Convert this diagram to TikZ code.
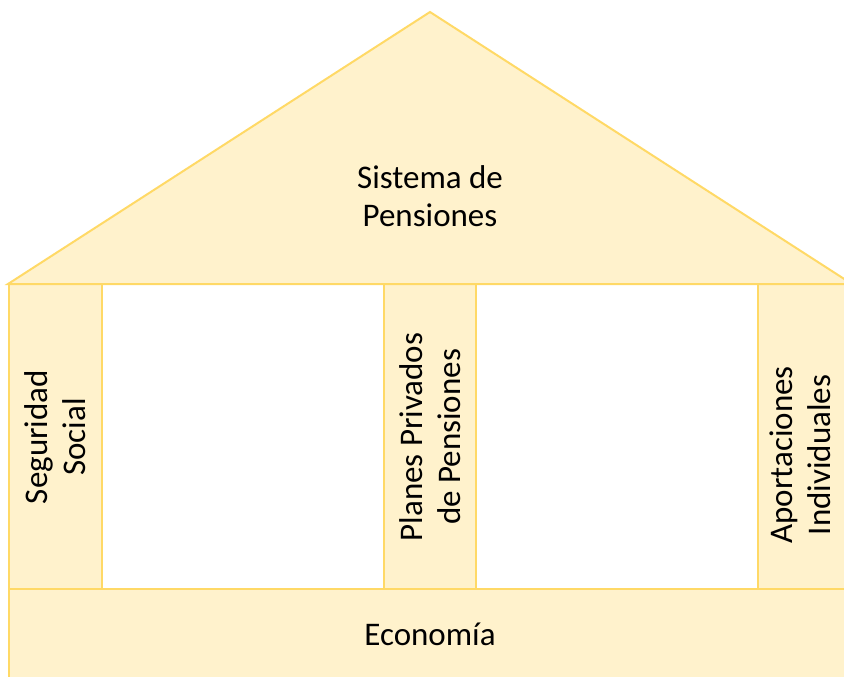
\documentclass[tikz,border=0pt]{standalone}
\usepackage{fontspec}
\setmainfont{Carlito}
\definecolor{pillarfill}{HTML}{FFF2CC}
\definecolor{pillarline}{HTML}{FFD966}
\tikzset{
  part/.style={fill=pillarfill, draw=pillarline, line width=2pt},
  label/.style={font=\fontsize{33}{38}\selectfont, align=center, text=black}
}

\begin{document}
\begin{tikzpicture}[x=1pt,y=-1pt]
    \useasboundingbox (0,0) rectangle (844,677);
    \begin{scope}
    \clip (0,0) rectangle (844,677);
    % Draw the pillars
    \draw[part] (9,284) rectangle (102,589);
    \draw[part] (384,284) rectangle (476,589);
    \draw[part] (758,284) rectangle (850,589);
    % Draw the base
    \draw[part] (9,589) rectangle (850,690);
    % Draw the roof
    \draw[part] (8,284) -- (430,12) -- (852,284) -- cycle;
    \end{scope}
    % Label the parts
    \node[label] (roof) at (430,196) {Sistema de\\Pensiones};
    \node[label, rotate=90] (social) at (55,437) {Seguridad\\Social};
    \node[label, rotate=90] (private) at (430,437) {Planes Privados\\de Pensiones};
    \node[label, rotate=90] (individual) at (800,455) {Aportaciones\\Individuales};
    \node[label] (economy) at (430,634) {Economía};
\end{tikzpicture}
\end{document}
